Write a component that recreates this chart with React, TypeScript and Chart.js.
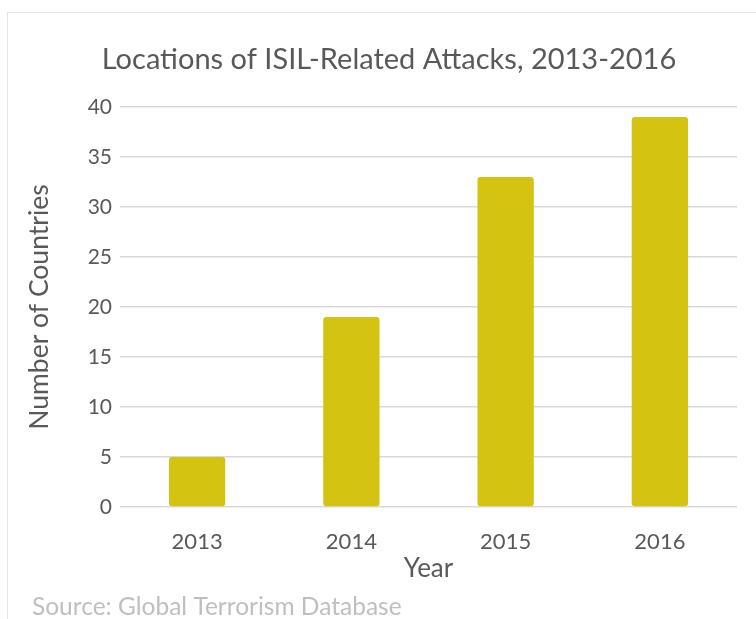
import React, { useEffect, useRef } from "react";
import { Chart, registerables } from "chart.js";

Chart.register(...registerables);

const years = ["2013", "2014", "2015", "2016"];
const countries = [5, 19, 33, 39];
const yTicks = [0, 5, 10, 15, 20, 25, 30, 35, 40];

const titleText = "Locations of ISIL-Related Attacks, 2013-2016";
const sourceText = "Source: Global Terrorism Database";
const FONT = "Lato, 'Open Sans', sans-serif";

const textPlugin = {
  id: "extraText",
  afterDraw(chart: any) {
    const ctx = chart.ctx;
    ctx.save();
    ctx.fillStyle = "#595959";
    ctx.font = `29px ${FONT}`;
    ctx.textAlign = "center";
    ctx.textBaseline = "middle";
    ctx.fillText(titleText, 389, 60);
    ctx.fillStyle = "#bfbfbf";
    ctx.font = `24.5px ${FONT}`;
    ctx.textAlign = "left";
    ctx.fillText(sourceText, 32, 607);
    ctx.restore();
  },
};

export default function App() {
  const ref = useRef<HTMLCanvasElement>(null);
  useEffect(() => {
    const chart = new Chart(ref.current!, {
      type: "bar",
      data: {
        labels: years,
        datasets: [
          {
            data: countries,
            backgroundColor: "#d5c312",
            borderRadius: 3,
            borderSkipped: false,
            barPercentage: 0.365,
            categoryPercentage: 1,
          },
        ],
      },
      options: {
        animation: false,
        responsive: false,
        layout: { padding: { left: 24, right: 19, top: 107, bottom: 35 } },
        plugins: {
          legend: { display: false },
          tooltip: { enabled: false },
          title: { display: false },
        },
        scales: {
          x: {
            grid: { display: false },
            border: { display: false },
            ticks: { color: "#595959", font: { family: FONT, size: 22 }, padding: 14 },
            title: {
              display: true,
              text: "Year",
              color: "#595959",
              font: { family: FONT, size: 26 },
              padding: { top: 0, bottom: 0 },
            },
            afterFit(scale: any) {
              scale.height = 77;
            },
          },
          y: {
            min: 0,
            max: 40,
            afterBuildTicks(scale: any) {
              scale.ticks = yTicks.map((v) => ({ value: v }));
            },
            grid: { color: "#d9d9d9", lineWidth: 1.5, drawTicks: false },
            border: { display: false },
            ticks: { color: "#595959", font: { family: FONT, size: 21 }, padding: 8 },
            title: {
              display: true,
              text: "Number of Countries",
              color: "#595959",
              font: { family: FONT, size: 26.5 },
              padding: { top: 0, bottom: 0 },
            },
            afterFit(scale: any) {
              scale.width = 96;
            },
          },
        },
      },
      plugins: [textPlugin],
    });
    return () => chart.destroy();
  }, []);
  return (
    <div style={{ position: "absolute", left: 0, top: 0, width: 756, height: 619, background: "#fff", overflow: "hidden" }}>
      <div
        style={{
          position: "absolute",
          left: 7,
          top: 12,
          width: 760,
          height: 620,
          borderTop: "1.5px solid #e3e3e3",
          borderLeft: "1.5px solid #e3e3e3",
        }}
      />
      <canvas ref={ref} width={756} height={619} style={{ position: "absolute", left: 0, top: 0 }} />
    </div>
  );
}
